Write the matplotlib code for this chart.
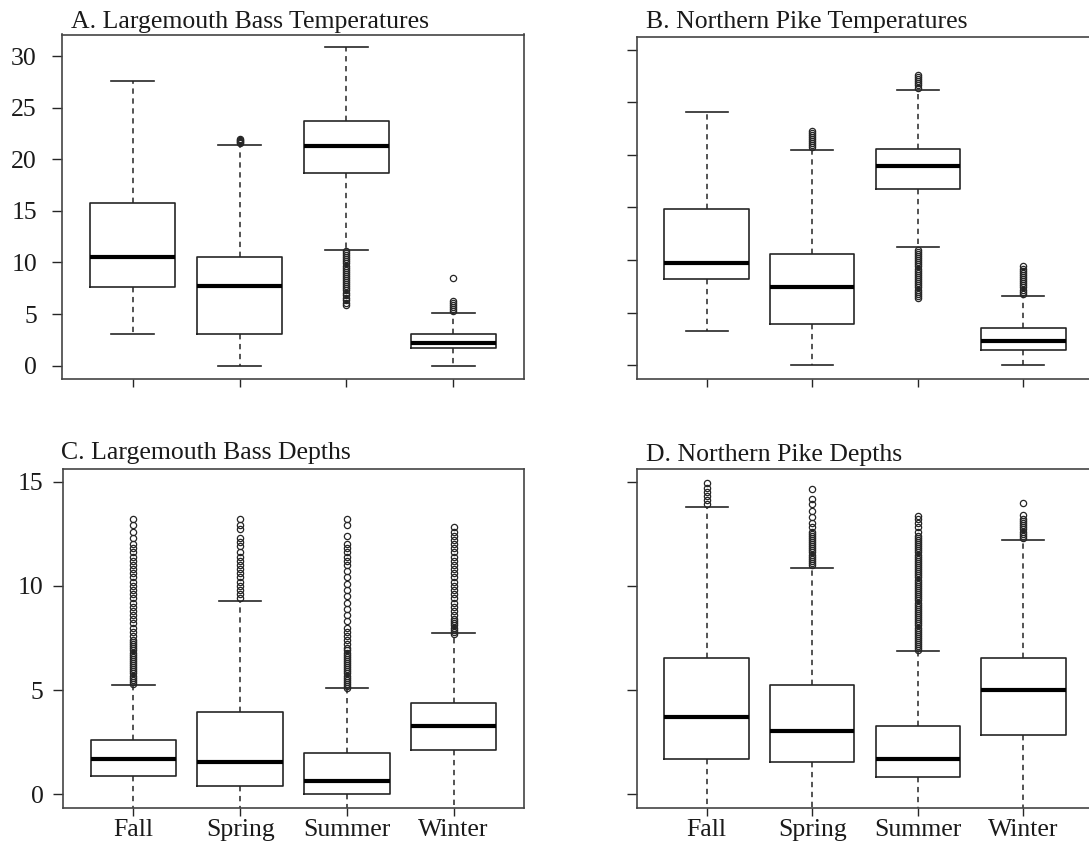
import matplotlib
matplotlib.use("Agg")
import matplotlib.pyplot as plt

plt.rcParams['font.family'] = ['Liberation Serif', 'DejaVu Serif']

seasons = ["Fall", "Spring", "Summer", "Winter"]

# ---- Panel A: Largemouth Bass Temperatures ----
a_whislo = [3.1, 0.0, 11.2, 0.0]
a_q1 = [7.6, 3.1, 18.7, 1.7]
a_med = [10.5, 7.7, 21.3, 2.2]
a_q3 = [15.8, 10.5, 23.7, 3.1]
a_whishi = [27.6, 21.4, 30.9, 5.1]
a_fliers = [
    [],
    [21.6, 21.7, 21.8, 21.9, 22.0],
    [11.1, 10.9, 10.7, 10.5, 10.3, 10.1, 9.9, 9.7, 9.5, 9.3, 9.1, 8.9, 8.7,
     8.5, 8.3, 8.1, 7.9, 7.7, 7.5, 7.3, 7.0, 6.8, 6.6, 6.4, 6.1, 5.9],
    [5.3, 5.5, 5.7, 5.9, 6.1, 6.3, 8.5],
]

# ---- Panel B: Northern Pike Temperatures ----
b_whislo = [3.3, 0.0, 11.2, 0.0]
b_q1 = [8.2, 3.9, 16.8, 1.5]
b_med = [9.7, 7.4, 18.9, 2.3]
b_q3 = [14.9, 10.6, 20.6, 3.5]
b_whishi = [24.1, 20.5, 26.2, 6.6]
b_fliers = [
    [],
    [20.7, 20.9, 21.1, 21.3, 21.5, 21.7, 21.9, 22.1, 22.3],
    [26.4, 26.6, 26.8, 27.0, 27.2, 27.4, 27.6,
     11.0, 10.8, 10.6, 10.4, 10.2, 10.0, 9.8, 9.6, 9.4, 9.2, 9.0, 8.8, 8.6,
     8.4, 8.2, 8.0, 7.8, 7.6, 7.4, 7.2, 7.0, 6.8, 6.6, 6.4],
    [6.8, 7.0, 7.2, 7.4, 7.6, 7.8, 8.0, 8.2, 8.4, 8.6, 8.8, 9.0, 9.2, 9.4],
]

# ---- Panel C: Largemouth Bass Depths ----
c_whislo = [-1.5, -1.5, -1.5, -1.5]
c_q1 = [0.88, 0.4, 0.0, 2.15]
c_med = [1.72, 1.56, 0.63, 3.27]
c_q3 = [2.6, 3.96, 2.0, 4.4]
c_whishi = [5.25, 9.26, 5.1, 7.72]
c_fliers = [
    [5.3, 5.4, 5.5, 5.6, 5.7, 5.8, 5.9, 6.0, 6.1, 6.2, 6.3, 6.4, 6.5, 6.6,
     6.7, 6.8, 6.9, 7.0, 7.1, 7.2, 7.3, 7.4, 7.6, 7.8, 8.0, 8.2, 8.4, 8.6,
     8.8, 9.0, 9.2, 9.4, 9.6, 9.8, 10.0, 10.2, 10.4, 10.6, 10.8, 11.0,
     11.2, 11.4, 11.6, 11.8, 12.0, 12.3, 12.6, 12.9, 13.2],
    [9.4, 9.6, 9.8, 10.0, 10.2, 10.4, 10.6, 10.8, 11.0, 11.2, 11.4, 11.6,
     11.9, 12.1, 12.3, 12.7, 12.9, 13.2],
    [5.1, 5.2, 5.3, 5.4, 5.5, 5.6, 5.7, 5.8, 5.9, 6.0, 6.1, 6.2, 6.3, 6.4,
     6.5, 6.6, 6.7, 6.8, 6.9, 7.0, 7.2, 7.4, 7.6, 7.8, 8.0, 8.3, 8.6, 8.9,
     9.2, 9.5, 9.8, 10.1, 10.4, 10.7, 11.0, 11.2, 11.4, 11.6, 11.8, 12.0,
     12.4, 12.9, 13.2],
    [7.7, 7.8, 7.9, 8.0, 8.1, 8.2, 8.3, 8.4, 8.6, 8.8, 9.0, 9.2, 9.4, 9.6,
     9.8, 10.0, 10.2, 10.4, 10.6, 10.8, 11.0, 11.2, 11.4, 11.6, 11.8, 12.0,
     12.2, 12.4, 12.6, 12.8],
]

# ---- Panel D: Northern Pike Depths ----
d_whislo = [-1.5, -1.5, -1.5, -1.5]
d_q1 = [1.7, 1.56, 0.83, 2.86]
d_med = [3.72, 3.05, 1.68, 5.0]
d_q3 = [6.56, 5.25, 3.26, 6.56]
d_whishi = [13.77, 10.86, 6.87, 12.18]
d_fliers = [
    [13.9, 14.1, 14.3, 14.5, 14.7, 14.95],
    [11.0, 11.1, 11.2, 11.3, 11.4, 11.5, 11.6, 11.7, 11.8, 11.9, 12.0, 12.1,
     12.2, 12.3, 12.4, 12.5, 12.6, 12.8, 13.0, 13.3, 13.6, 13.9, 14.15, 14.65],
    [6.9, 7.0, 7.1, 7.2, 7.3, 7.4, 7.5, 7.6, 7.7, 7.8, 7.9, 8.0, 8.1, 8.2,
     8.3, 8.4, 8.5, 8.6, 8.7, 8.8, 8.9, 9.0, 9.1, 9.2, 9.3, 9.4, 9.5, 9.6,
     9.7, 9.8, 9.9, 10.0, 10.1, 10.2, 10.3, 10.4, 10.5, 10.6, 10.7, 10.8,
     10.9, 11.0, 11.1, 11.2, 11.3, 11.4, 11.5, 11.6, 11.7, 11.8, 11.9, 12.0,
     12.1, 12.2, 12.3, 12.4, 12.6, 12.8, 13.0, 13.2, 13.35],
    [12.3, 12.4, 12.5, 12.6, 12.7, 12.8, 12.9, 13.0, 13.1, 13.2, 13.4, 13.96],
]

titles = ["A. Largemouth Bass Temperatures", "B. Northern Pike Temperatures",
          "C. Largemouth Bass Depths", "D. Northern Pike Depths"]
temp_ticks = [0, 5, 10, 15, 20, 25, 30]
depth_ticks = [0, 5, 10, 15]

W, H = 1089, 844
fig = plt.figure(figsize=(W / 100, H / 100), dpi=100)
ink = "#262626"


def px_axes(x0, y0, x1, y1):
    return fig.add_axes([x0 / W, 1 - y1 / H, (x1 - x0) / W, (y1 - y0) / H])


def draw(ax, whislo, q1, med, q3, whishi, fliers, ylim, yticks, show_ylab,
         show_xlab, ylab_pad):
    stats = []
    for i in range(4):
        stats.append(dict(whislo=whislo[i], q1=q1[i], med=med[i], q3=q3[i],
                          whishi=whishi[i], fliers=fliers[i]))
    ax.bxp(stats, positions=[1, 2, 3, 4], widths=0.8, showfliers=True,
           boxprops=dict(color=ink, linewidth=1.2),
           medianprops=dict(color="black", linewidth=3.0, solid_capstyle="butt"),
           whiskerprops=dict(color=ink, linewidth=1.1, linestyle=(0, (3.5, 3.0))),
           capprops=dict(color=ink, linewidth=1.2),
           capwidths=0.4,
           flierprops=dict(marker="o", markerfacecolor="none",
                           markeredgecolor=ink, markersize=4.5,
                           markeredgewidth=0.9, linestyle="none"))
    ax.set_xlim(0.34, 4.66)
    ax.set_ylim(*ylim)
    ax.set_yticks(yticks)
    ax.set_xticks([1, 2, 3, 4])
    if show_xlab:
        ax.set_xticklabels(seasons)
    else:
        ax.set_xticklabels([])
    if show_ylab:
        ax.set_yticklabels([str(t) for t in yticks])
    else:
        ax.set_yticklabels([])
    ax.tick_params(axis="y", length=7, width=1.0, color=ink, labelsize=18.5,
                   pad=ylab_pad, labelcolor="#1a1a1a")
    ax.tick_params(axis="x", length=6, width=1.0, color=ink, labelsize=18.5,
                   pad=2, labelcolor="#1a1a1a")
    for s in ax.spines.values():
        s.set_color("#444444")
        s.set_linewidth(1.2)


axA = px_axes(62, 34.5, 524, 379)
draw(axA, a_whislo, a_q1, a_med, a_q3, a_whishi, a_fliers, (-1.3, 32.1),
     temp_ticks, True, False, 11)
axB = px_axes(637, 37, 1093, 379)
draw(axB, b_whislo, b_q1, b_med, b_q3, b_whishi, b_fliers, (-1.3, 31.2),
     temp_ticks, False, False, 11)
axC = px_axes(63, 469, 524, 808)
draw(axC, c_whislo, c_q1, c_med, c_q3, c_whishi, c_fliers, (-0.65, 15.6),
     depth_ticks, True, True, 7)
axD = px_axes(637, 469, 1093, 808)
draw(axD, d_whislo, d_q1, d_med, d_q3, d_whishi, d_fliers, (-0.65, 15.6),
     depth_ticks, False, True, 7)

title_pos = [(71, 28), (646, 28), (61, 459), (646, 461)]
for t, (x, y) in zip(titles, title_pos):
    fig.text(x / W, 1 - y / H, t, fontsize=18.5, ha="left", va="baseline",
             color="#1a1a1a")

fig.savefig("out.png", dpi=100, facecolor="white")
